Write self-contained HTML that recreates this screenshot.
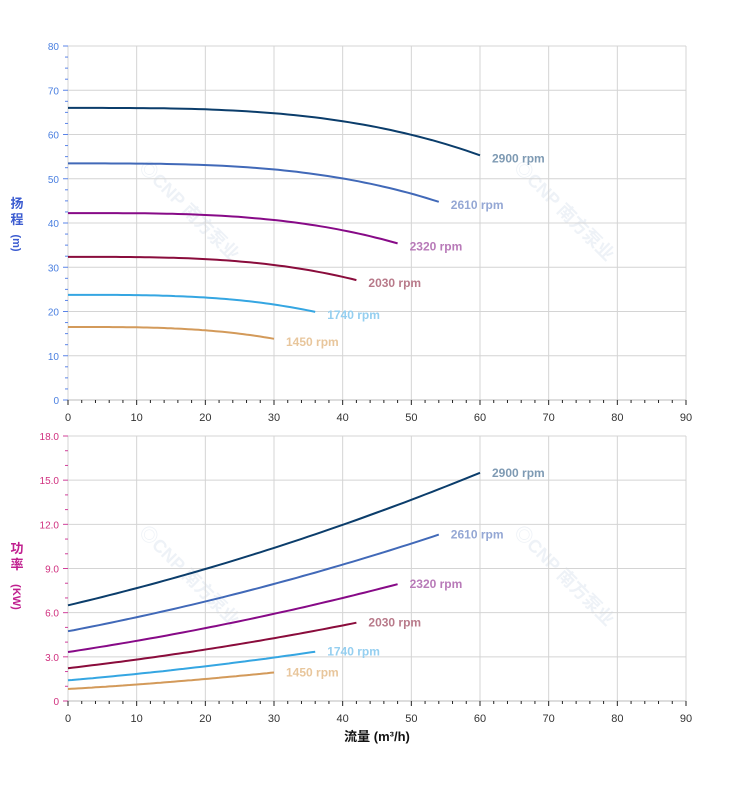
<!DOCTYPE html>
<html><head><meta charset="utf-8"><style>
body{margin:0;background:#fff;}
svg{display:block;font-family:"Liberation Sans","Noto Sans CJK SC",sans-serif;}
</style></head><body>
<svg id="s" width="752" height="797" xmlns="http://www.w3.org/2000/svg"></svg>
<script>
const s=document.getElementById('s');let h='';
const X0=68,X1=686,xs=q=>X0+q*(X1-X0)/90;
const T0=400,T1=46,yt=v=>T0-v*(T0-T1)/80;
const B0=701,B1=436,yb=v=>B0-v*(B0-B1)/18;
[[185,215],[560,215],[185,580],[560,580]].forEach(([x,y])=>{
h+=`<text x="${x}" y="${y}" transform="rotate(45 ${x} ${y})" text-anchor="middle" font-size="18" font-weight="bold" fill="#eef2f7">◎CNP 南方泵业</text>`;});
for(let i=0;i<=9;i++){let x=xs(i*10);
h+=`<line x1="${x}" y1="${T1}" x2="${x}" y2="${T0}" stroke="#d4d4d4"/>`;
h+=`<line x1="${x}" y1="${B1}" x2="${x}" y2="${B0}" stroke="#d4d4d4"/>`;
h+=`<text x="${x}" y="${T0+21}" font-size="11" text-anchor="middle" fill="#333">${i*10}</text>`;
h+=`<text x="${x}" y="${B0+21}" font-size="11" text-anchor="middle" fill="#333">${i*10}</text>`;}
for(let i=0;i<=8;i++){let y=yt(i*10);
h+=`<line x1="${X0}" y1="${y}" x2="${X1}" y2="${y}" stroke="#d4d4d4"/>`;
h+=`<line x1="${X0-5}" y1="${y}" x2="${X0}" y2="${y}" stroke="#5b84e8"/>`;
h+=`<text x="${X0-9}" y="${y+4}" font-size="10" text-anchor="end" fill="#4a7fe0">${i*10}</text>`;}
for(let v=2.5;v<80;v+=2.5){if(v%10)h+=`<line x1="${X0-3}" y1="${yt(v)}" x2="${X0}" y2="${yt(v)}" stroke="#5b84e8"/>`;}
for(let i=0;i<=6;i++){let y=yb(i*3);
h+=`<line x1="${X0}" y1="${y}" x2="${X1}" y2="${y}" stroke="#d4d4d4"/>`;
h+=`<line x1="${X0-5}" y1="${y}" x2="${X0}" y2="${y}" stroke="#d0409a"/>`;
h+=`<text x="${X0-9}" y="${y+4}" font-size="10" text-anchor="end" fill="#d0307f">${i==0?'0':(i*3).toFixed(1)}</text>`;}
for(let v=1;v<18;v++){if(v%3)h+=`<line x1="${X0-3}" y1="${yb(v)}" x2="${X0}" y2="${yb(v)}" stroke="#d0409a"/>`;}
[T0,B0].forEach(Y=>{h+=`<line x1="${X0}" y1="${Y}" x2="${X1}" y2="${Y}" stroke="#bbb"/>`;
for(let q=0;q<=90;q+=2){let big=q%10==0;h+=`<line x1="${xs(q)}" y1="${Y}" x2="${xs(q)}" y2="${Y+(big?5:3)}" stroke="#222"/>`;}});
const C=[[2900,'#0b3d6b','#7e9ab3'],[2610,'#4169b8','#94a7d4'],[2320,'#870a87','#b87ab8'],[2030,'#8a0c3c','#b87a8a'],[1740,'#35a6e2','#95cff0'],[1450,'#d39a5a','#e8c69c']];
const H=q=>66+0.00032*q*q-5.49e-5*q*q*q, P=q=>6.5+0.11*q+0.000667*q*q;
C.forEach(([n,c,lc])=>{const r=n/2900,qm=60*r;let a='',b='';
for(let k=0;k<=60;k++){let q=qm*k/60,q0=q/r;a+=(k?'L':'M')+xs(q).toFixed(1)+','+yt(H(q0)*r*r).toFixed(1);b+=(k?'L':'M')+xs(q).toFixed(1)+','+yb(P(q0)*r*r*r).toFixed(1);}
h+=`<path d="${a}" fill="none" stroke="${c}" stroke-width="2"/><path d="${b}" fill="none" stroke="${c}" stroke-width="2"/>`;
h+=`<text x="${xs(qm)+12}" y="${yt(H(60)*r*r)+7}" font-size="12" font-weight="bold" fill="${lc}">${n} rpm</text>`;
h+=`<text x="${xs(qm)+12}" y="${yb(P(60)*r*r*r)+4}" font-size="12" font-weight="bold" fill="${lc}">${n} rpm</text>`;});
h+=`<text x="17" y="208" font-size="13" font-weight="bold" fill="#3b5bd0" text-anchor="middle">扬</text><text x="17" y="224" font-size="13" font-weight="bold" fill="#3b5bd0" text-anchor="middle">程</text>`;
h+=`<text transform="translate(13,243) rotate(90)" font-size="11" font-weight="bold" fill="#3b5bd0" text-anchor="middle">(m)</text>`;
h+=`<text x="17" y="553" font-size="13" font-weight="bold" fill="#c0208f" text-anchor="middle">功</text><text x="17" y="569" font-size="13" font-weight="bold" fill="#c0208f" text-anchor="middle">率</text>`;
h+=`<text transform="translate(13,597) rotate(90)" font-size="11" font-weight="bold" fill="#c0208f" text-anchor="middle">(KW)</text>`;
h+=`<text x="377" y="741" font-size="13" font-weight="bold" fill="#111" text-anchor="middle">流量 (m³/h)</text>`;
s.innerHTML=h;
</script>
</body></html>
